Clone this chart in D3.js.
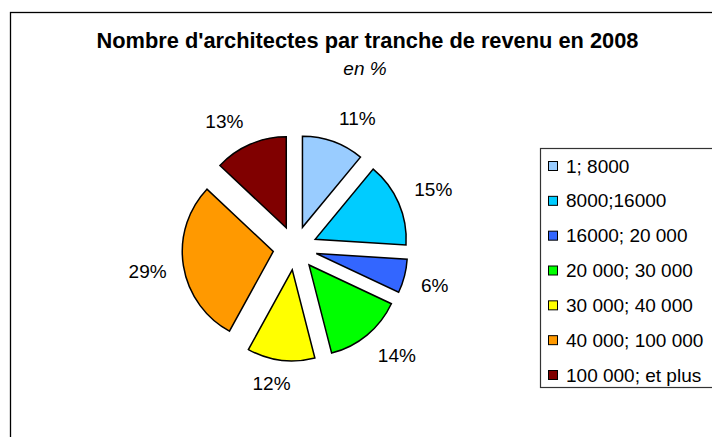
<!DOCTYPE html>
<html>
<head>
<meta charset="utf-8">
<script src="https://cdn.jsdelivr.net/npm/d3@7"></script>
<style>
  html, body { margin: 0; padding: 0; background: #fff; }
  svg { display: block; font-family: "Liberation Sans", Arial, sans-serif; }
</style>
</head>
<body>
<svg id="chart" width="712" height="437"></svg>
<script>
const categories = ["1; 8000", "8000;16000", "16000; 20 000", "20 000; 30 000", "30 000; 40 000", "40 000; 100 000", "100 000; et plus"];
const values = [11, 15, 6, 14, 12, 29, 13];
const colors = ["#99CCFF", "#00CCFF", "#3366FF", "#00FF00", "#FFFF00", "#FF9900", "#800000"];
const title = "Nombre d'architectes par tranche de revenu en 2008";
const subtitle = "en %";

const svg = d3.select("#chart");

// outer chart border (extends beyond the visible window right and bottom)
svg.append("rect")
  .attr("x", 10.5).attr("y", 12.5)
  .attr("width", 720).attr("height", 440)
  .attr("fill", "#fff").attr("stroke", "#000").attr("stroke-width", 1.3);

// titles
svg.append("text")
  .attr("x", 367.5).attr("y", 48)
  .attr("text-anchor", "middle")
  .attr("font-weight", "bold").attr("font-size", 21.8)
  .attr("fill", "#000")
  .text(title);
svg.append("text")
  .attr("x", 365).attr("y", 75)
  .attr("text-anchor", "middle")
  .attr("font-style", "italic").attr("font-size", 19)
  .attr("fill", "#000")
  .text(subtitle);

// pie
const cx = 295, cy = 248, R = 91, explode = 22;
const pie = d3.pie().sort(null).value(d => d).startAngle(0).endAngle(2 * Math.PI);
const arcs = pie(values);
const arc = d3.arc().innerRadius(0).outerRadius(R);
const color = d3.scaleOrdinal().domain(categories).range(colors);

const g = svg.append("g").attr("transform", `translate(${cx},${cy})`);

g.selectAll("path.slice")
  .data(arcs)
  .join("path")
  .attr("class", "slice")
  .attr("transform", d => {
    const a = (d.startAngle + d.endAngle) / 2;
    return `translate(${explode * Math.sin(a)},${-explode * Math.cos(a)})`;
  })
  .attr("d", arc)
  .attr("fill", (d, i) => color(categories[i]))
  .attr("stroke", "#000")
  .attr("stroke-width", 1.5)
  .attr("stroke-linejoin", "miter");

// labels
const labelR = 130, k = 3;
const clamp = v => Math.max(-1, Math.min(1, v));
const labels = g.selectAll("text.lbl")
  .data(arcs)
  .join("text")
  .attr("class", "lbl")
  .attr("font-size", 19)
  .attr("fill", "#000")
  .attr("text-anchor", "middle")
  .attr("dominant-baseline", "central")
  .text(d => d.value + "%");

labels.each(function(d) {
  const a = (d.startAngle + d.endAngle) / 2;
  const sx = Math.sin(a), sy = -Math.cos(a);
  const w = this.getComputedTextLength(), h = 14;
  const x = labelR * sx + (w / 2) * clamp(sx * k);
  const y = labelR * sy + (h / 2) * clamp(sy * k);
  d3.select(this).attr("x", x).attr("y", y);
});

// legend
const legend = svg.append("g");
legend.append("rect")
  .attr("x", 540.5).attr("y", 148.5)
  .attr("width", 200).attr("height", 239)
  .attr("fill", "#fff").attr("stroke", "#333").attr("stroke-width", 1.2);

const rowY = d3.scalePoint().domain(categories).range([166, 375]);
const items = legend.selectAll("g.item")
  .data(categories)
  .join("g")
  .attr("class", "item")
  .attr("transform", d => `translate(0,${rowY(d)})`);
items.append("rect")
  .attr("x", 548.5).attr("y", -4.5)
  .attr("width", 9).attr("height", 9)
  .attr("fill", d => color(d))
  .attr("stroke", "#000").attr("stroke-width", 1);
items.append("text")
  .attr("x", 566).attr("y", 0)
  .attr("dominant-baseline", "central")
  .attr("font-size", 19)
  .attr("fill", "#000")
  .text(d => d);
</script>
</body>
</html>
